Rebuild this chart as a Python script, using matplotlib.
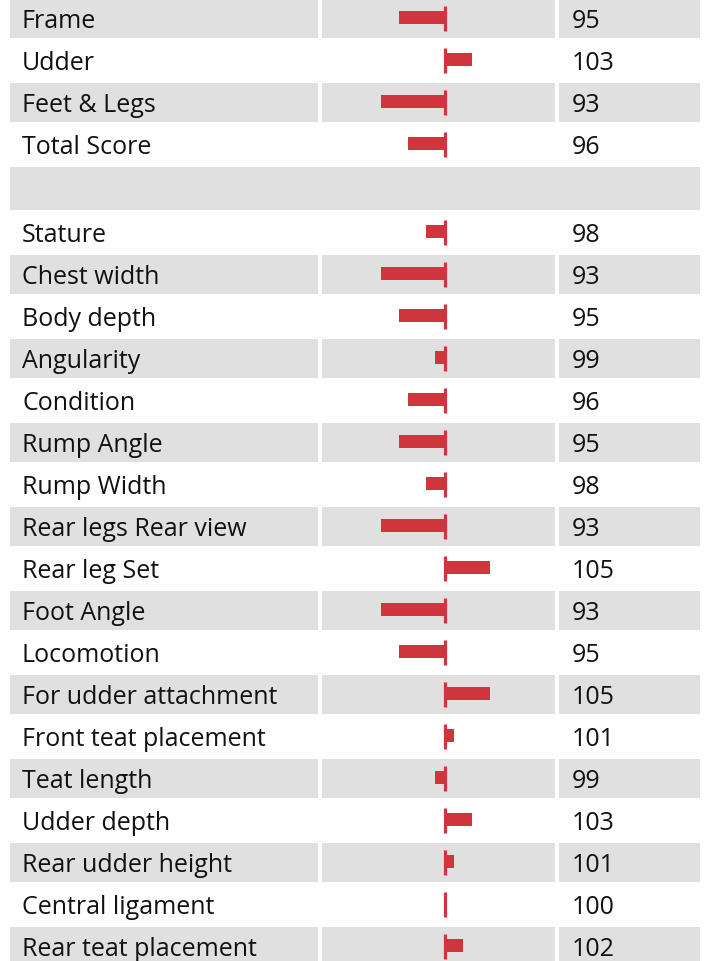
import numpy as np
import matplotlib
matplotlib.use('Agg')
from matplotlib import pyplot as plt
from matplotlib.patches import Rectangle

plt.rcParams['font.family'] = ['Open Sans', 'DejaVu Sans']

# 表格内容：性状名称与评分（空行用 None 表示）
labels = ['Frame', 'Udder', 'Feet & Legs', 'Total Score', '',
          'Stature', 'Chest width', 'Body depth', 'Angularity', 'Condition',
          'Rump Angle', 'Rump Width', 'Rear legs Rear view', 'Rear leg Set',
          'Foot Angle', 'Locomotion', 'For udder attachment',
          'Front teat placement', 'Teat length', 'Udder depth',
          'Rear udder height', 'Central ligament', 'Rear teat placement']
scores = [95, 103, 93, 96, None,
          98, 93, 95, 99, 96,
          95, 98, 93, 105,
          93, 95, 105,
          101, 99, 103,
          101, 100, 102]
base = 100

W, H = 705, 962
grey = '#e0e0e0'
red = '#d0343c'
fsize = 18
cap_half = fsize * 100 / 72 * 0.714 / 2

# 行高（像素），空行稍高
row_h = np.array([46 if s is None else 42 for s in scores])
row_top = np.concatenate([[0], np.cumsum(row_h)[:-1]])
row_mid = row_top + (row_h - 3) / 2.0

fig = plt.figure(figsize=(W / 100, H / 100), dpi=100)
ax = fig.add_axes([0, 0, 1, 1])
ax.set_xlim(0, W)
ax.set_ylim(H, 0)
ax.axis('off')

# 三列单元格的左右边界
cols = [(10, 318), (322, 555), (559, 700)]

for i, (lab, s) in enumerate(zip(labels, scores)):
    if i % 2 == 0:
        if s is None:
            ax.add_patch(Rectangle((cols[0][0], row_top[i]), cols[2][1] - cols[0][0],
                                   row_h[i] - 3, color=grey, lw=0))
        else:
            for x0, x1 in cols:
                ax.add_patch(Rectangle((x0, row_top[i]), x1 - x0, row_h[i] - 3,
                                       color=grey, lw=0))
    if s is None:
        continue
    ty = row_mid[i] + cap_half
    ax.text(22, ty, lab, fontsize=fsize, va='baseline', ha='left', color='#111111')
    ax.text(572, ty, str(s), fontsize=fsize, va='baseline', ha='left', color='#111111')

# 条形图区域，横轴为评分
px_per_unit = 9.1
bx0, bx1 = cols[1]
left_val = base - (444.5 - bx0) / px_per_unit
right_val = base + (bx1 - 444.5) / px_per_unit
bax = fig.add_axes([bx0 / W, 0, (bx1 - bx0) / W, 1])
bax.set_xlim(left_val, right_val)
bax.set_ylim(H, 0)
bax.axis('off')
bax.patch.set_alpha(0)

idx = [i for i, s in enumerate(scores) if s is not None]
vals = np.array([scores[i] for i in idx], dtype=float)
ys = row_mid[idx]
bax.barh(ys - 1, vals - base, left=base, height=13, color=red, lw=0)
bax.vlines([base] * len(ys), ys - 13, ys + 12, color=red, lw=2.3)

plt.savefig('out.png', dpi=100)
